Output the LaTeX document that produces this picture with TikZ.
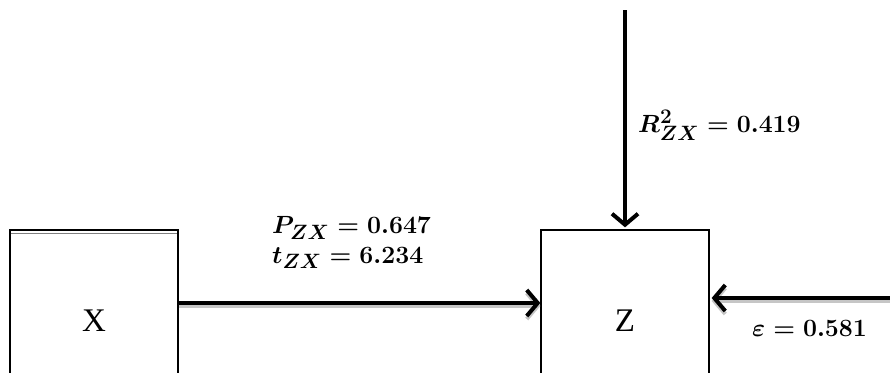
\documentclass[tikz,border=0pt]{standalone}
\usepackage{fontspec}
\usetikzlibrary{arrows.meta, positioning, calc}
\newfontfamily\boxfont{Liberation Serif}

\begin{document}
\begin{tikzpicture}[
    x=1pt, y=-1pt, % one unit is one pixel of the reference, y pointing down
    >={Straight Barb[length=11pt, width=26pt]}, % open chevron tips
    var/.style={draw, line width=1.3pt, minimum width=168pt, minimum height=182pt,
        inner sep=0pt, font=\boxfont\fontsize{33}{36}\selectfont}, % variable boxes
    path/.style={->, line width=4pt, preaction={draw=gray!45, line width=4pt,
        transform canvas={yshift=-3pt}}}, % thick arrow with a soft shadow
    coef/.style={font=\fontsize{29}{31}\selectfont\boldmath, inner sep=0pt,
        anchor=west, align=left} % path coefficients
]

    % Fix the frame to the reference size
    \useasboundingbox (0,0) rectangle (890,372);
    \clip (0,0) rectangle (890,372);

    % Boxes for X and Z (they run past the lower edge)
    \node[var] (X) at (94,321) {X};
    \node[var] (Z) at (625,321) {Z};
    \draw[gray, line width=1.5pt] ($(X.north west)+(1.5,4)$) -- ($(X.north east)+(-1.5,4)$);

    % Free ends of the outside arrows
    \coordinate (resid) at (625,10);
    \coordinate (eps) at (890,298);

    % Path X -> Z
    \draw[path] (X.east |- 0,303) -- (Z.west |- 0,303);
    \node[coef] (pzx) at (272,228) {$P_{ZX} = 0.647$};
    \node[coef] (tzx) at (272,258) {$t_{ZX} = 6.234$};

    % Arrow from above into Z
    \draw[->, line width=4pt] (resid) -- ($(Z.north)+(0,-2)$);
    \node[coef] (rsq) at (638,125) {$R^2_{ZX} = 0.419$};

    % Error term from the right
    \draw[path] (eps) -- ($(Z.east |- eps)+(2,0)$);
    \node[coef] (err) at (752,328) {$\varepsilon = 0.581$};

\end{tikzpicture}
\end{document}
